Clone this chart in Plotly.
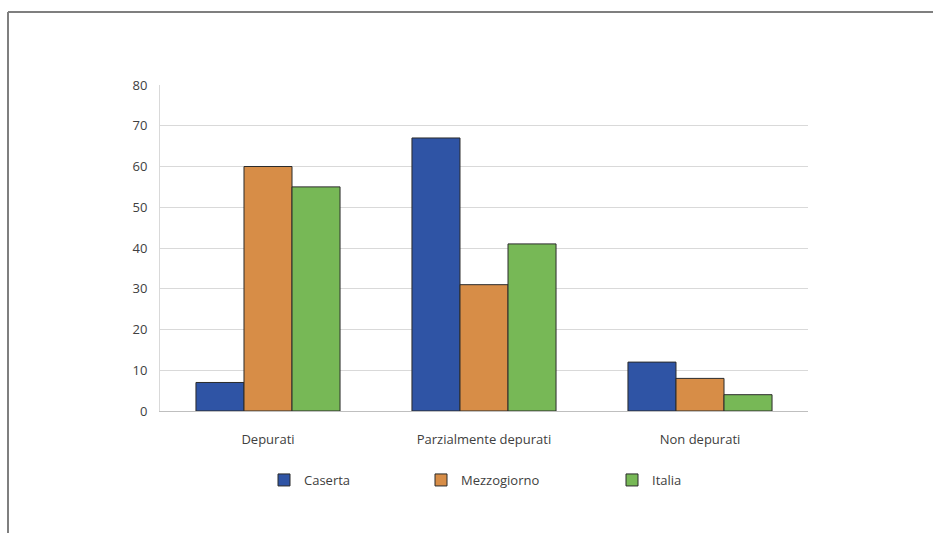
import plotly.graph_objects as go

categories = ["Depurati", "Parzialmente depurati", "Non depurati"]
caserta = [7, 67, 12]
mezzogiorno = [60, 31, 8]
italia = [55, 41, 4]
series_names = ["Caserta", "Mezzogiorno", "Italia"]
y_ticks = [0, 10, 20, 30, 40, 50, 60, 70, 80]

colors = ["#2F54A5", "#D78D47", "#77B856"]
W, H = 933, 533
L, R, T, B = 160, 125, 85, 122
pw, ph = W - L - R, H - T - B
FONT = "Open Sans, Liberation Sans, sans-serif"

def px_x(p):
    return (p - L) / pw

def px_y(p):
    return (H - B - p) / ph

fig = go.Figure()
legend_x = [264, 421, 612]
for i, (name, vals) in enumerate(zip(series_names, [caserta, mezzogiorno, italia])):
    fig.add_trace(go.Bar(
        x=categories, y=vals, name=name,
        marker=dict(color=colors[i], line=dict(color="#2b2b2b", width=1)),
        legend="legend" if i == 0 else f"legend{i + 1}",
    ))

leg_common = dict(orientation="h", xanchor="left", yanchor="middle",
                  font=dict(family=FONT, size=13, color="#404040"),
                  bgcolor="rgba(0,0,0,0)", itemwidth=30)
layout_legends = {}
for i, lx in enumerate(legend_x):
    key = "legend" if i == 0 else f"legend{i + 1}"
    layout_legends[key] = dict(leg_common, x=px_x(lx), y=px_y(480))

fig.update_layout(
    width=W, height=H,
    margin=dict(l=L, r=R, t=T, b=B),
    paper_bgcolor="white", plot_bgcolor="white",
    barmode="group", bargap=0.333, bargroupgap=0,
    font=dict(family=FONT, size=13, color="#404040"),
    xaxis=dict(showgrid=False, showline=True, linecolor="#bfbfbf", linewidth=1,
               ticks="", ticklabelstandoff=16, tickfont=dict(size=13, color="#404040")),
    yaxis=dict(range=[0, 80], tickvals=y_ticks, showgrid=True, gridcolor="#d9d9d9",
               gridwidth=1, showline=True, linecolor="#d9d9d9", linewidth=1,
               zeroline=False, ticks="", ticklabelstandoff=9,
               tickfont=dict(size=13, color="#404040")),
    showlegend=True,
    **layout_legends,
    shapes=[
        dict(type="line", xref="paper", yref="paper", x0=px_x(8), x1=px_x(W + 5),
             y0=px_y(12), y1=px_y(12), line=dict(color="#7f7f7f", width=2)),
        dict(type="line", xref="paper", yref="paper", x0=px_x(8), x1=px_x(8),
             y0=px_y(12), y1=px_y(H + 5), line=dict(color="#7f7f7f", width=2)),
    ],
)

fig.write_html("out.html")
